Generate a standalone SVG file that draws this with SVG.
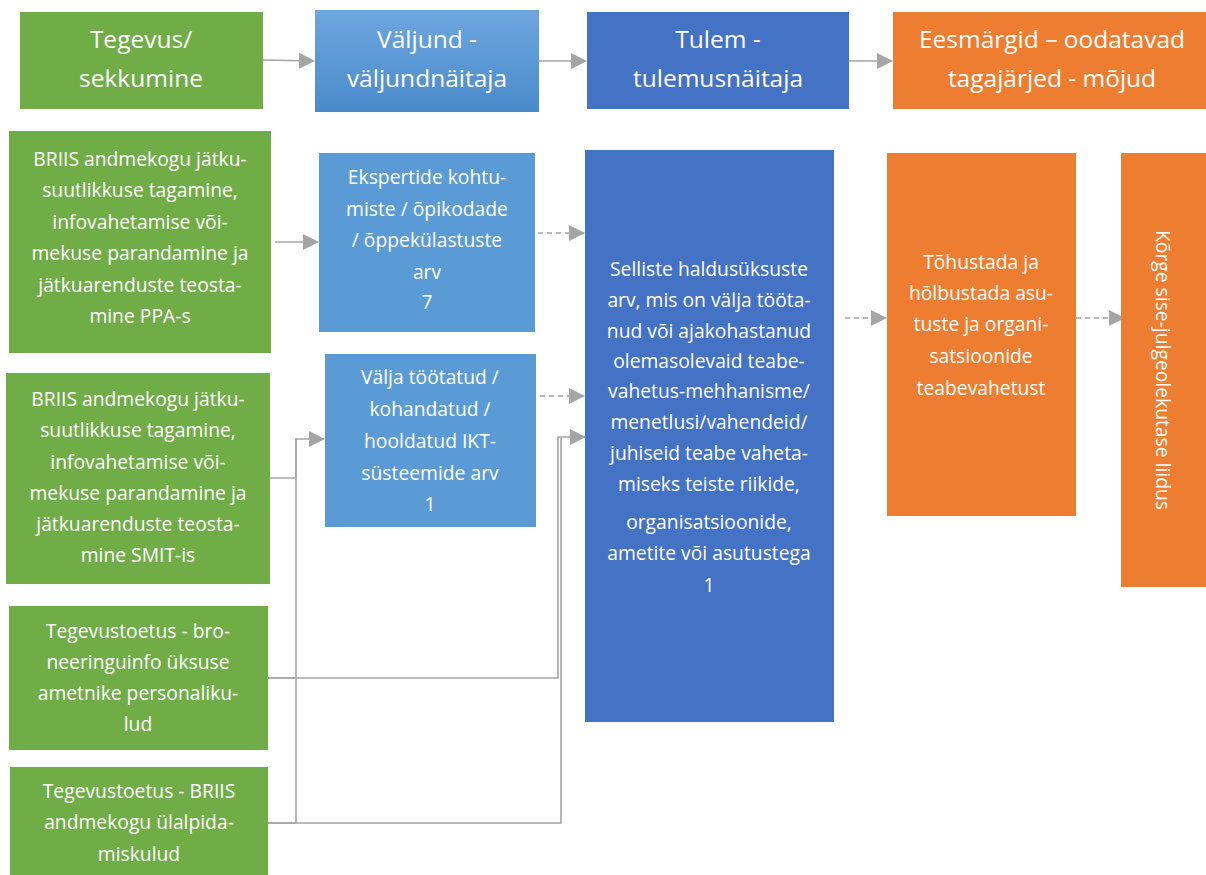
<svg xmlns="http://www.w3.org/2000/svg" width="1206" height="875" viewBox="0 0 1206 875">
<style>
.g{fill:#70AD47}
.b{fill:#5B9BD5}
.d{fill:#4472C4}
.o{fill:#ED7D31}
text{font-family:"Open Sans","Noto Sans","DejaVu Sans",sans-serif;fill:#fff;text-anchor:middle}
.h{font-size:24.5px}
.t{font-size:19.3px}
.c{fill:none;stroke:#A5A5A5;stroke-width:1.6}
.dash{stroke-dasharray:5 4}
</style>
<defs>
<marker id="ah" markerUnits="userSpaceOnUse" markerWidth="16" markerHeight="16" refX="15" refY="8" orient="auto">
<path d="M0,0 L16,8 L0,16 Z" fill="#A5A5A5"/>
</marker>
<linearGradient id="vg" x1="0" y1="0" x2="0" y2="1">
<stop offset="0" stop-color="#6EA6DE"/>
<stop offset="1" stop-color="#4A8ACB"/>
</linearGradient>
</defs>
<g id="connectors">
<line class="c" x1="263" y1="60" x2="314" y2="61" marker-end="url(#ah)"/>
<line class="c" x1="539" y1="61" x2="586" y2="61" marker-end="url(#ah)"/>
<line class="c" x1="849" y1="61" x2="892" y2="61" marker-end="url(#ah)"/>
<line class="c" x1="275" y1="242" x2="318" y2="242" marker-end="url(#ah)"/>
<polyline class="c" points="270,478 296,478 296,439 324,439" marker-end="url(#ah)"/>
<polyline class="c" points="268,678 296,678 296,439"/>
<polyline class="c" points="268,823 296,823 296,678"/>
<polyline class="c" points="268,678 558,678 558,437 585,437" marker-end="url(#ah)"/>
<polyline class="c" points="268,823 561,823 561,437"/>
<line class="c dash" x1="538" y1="233" x2="584" y2="233" marker-end="url(#ah)"/>
<line class="c dash" x1="540" y1="396" x2="584" y2="396" marker-end="url(#ah)"/>
<line class="c dash" x1="845" y1="318" x2="886" y2="318" marker-end="url(#ah)"/>
<line class="c dash" x1="1076" y1="318" x2="1124" y2="318" marker-end="url(#ah)"/>
</g>
<g id="h1"><rect class="g" x="20" y="12" width="243" height="97"/>
<text class="h" x="141" y="48">Tegevus/</text><text class="h" x="141" y="87">sekkumine</text></g>
<g id="h2"><rect fill="url(#vg)" x="315" y="10" width="224" height="102"/>
<text class="h" x="427" y="48">Väljund -</text><text class="h" x="427" y="87">väljundnäitaja</text></g>
<g id="h3"><rect class="d" x="587" y="12" width="262" height="97"/>
<text class="h" x="718" y="48">Tulem -</text><text class="h" x="718" y="87">tulemusnäitaja</text></g>
<g id="h4"><rect class="o" x="893" y="12" width="313" height="97"/>
<text class="h" x="1052" y="48">Eesmärgid – oodatavad</text><text class="h" x="1052" y="87">tagajärjed - mõjud</text></g>
<g id="a1"><rect class="g" x="9" y="131" width="262" height="222"/>
<text class="t"><tspan x="140" y="166">BRIIS andmekogu jätku-</tspan><tspan x="140" y="197">suutlikkuse tagamine,</tspan><tspan x="140" y="229">infovahetamise või-</tspan><tspan x="140" y="260">mekuse parandamine ja</tspan><tspan x="140" y="292">jätkuarenduste teosta-</tspan><tspan x="140" y="323">mine PPA-s</tspan></text></g>
<g id="a2"><rect class="g" x="6" y="373" width="264" height="211"/>
<text class="t"><tspan x="138" y="406">BRIIS andmekogu jätku-</tspan><tspan x="138" y="437">suutlikkuse tagamine,</tspan><tspan x="138" y="469">infovahetamise või-</tspan><tspan x="138" y="500">mekuse parandamine ja</tspan><tspan x="138" y="531">jätkuarenduste teosta-</tspan><tspan x="138" y="562">mine SMIT-is</tspan></text></g>
<g id="a3"><rect class="g" x="9" y="606" width="259" height="144"/>
<text class="t"><tspan x="138" y="638">Tegevustoetus - bro-</tspan><tspan x="138" y="669">neeringuinfo üksuse</tspan><tspan x="138" y="700">ametnike personaliku-</tspan><tspan x="138" y="731">lud</tspan></text></g>
<g id="a4"><rect class="g" x="10" y="767" width="258" height="108"/>
<text class="t"><tspan x="139" y="798">Tegevustoetus - BRIIS</tspan><tspan x="139" y="829">andmekogu ülalpida-</tspan><tspan x="139" y="861">miskulud</tspan></text></g>
<g id="v1"><rect class="b" x="319" y="153" width="216" height="179"/>
<text class="t"><tspan x="427" y="184">Ekspertide kohtu-</tspan><tspan x="427" y="216">miste / õpikodade</tspan><tspan x="427" y="247">/ õppekülastuste</tspan><tspan x="427" y="279">arv</tspan><tspan x="427" y="309">7</tspan></text></g>
<g id="v2"><rect class="b" x="325" y="354" width="211" height="173"/>
<text class="t"><tspan x="430" y="384">Välja töötatud /</tspan><tspan x="430" y="416">kohandatud /</tspan><tspan x="430" y="448">hooldatud IKT-</tspan><tspan x="430" y="480">süsteemide arv</tspan><tspan x="430" y="511">1</tspan></text></g>
<g id="r1"><rect class="d" x="585" y="150" width="249" height="572"/>
<text class="t"><tspan x="709" y="276">Selliste haldusüksuste</tspan><tspan x="709" y="307">arv, mis on välja tööta-</tspan><tspan x="709" y="338">nud või ajakohastanud</tspan><tspan x="709" y="368">olemasolevaid teabe-</tspan><tspan x="709" y="398">vahetus-mehhanisme/</tspan><tspan x="709" y="429">menetlusi/vahendeid/</tspan><tspan x="709" y="460">juhiseid teabe vaheta-</tspan><tspan x="709" y="491">miseks teiste riikide,</tspan><tspan x="709" y="529">organisatsioonide,</tspan><tspan x="709" y="560">ametite või asutustega</tspan><tspan x="709" y="592">1</tspan></text></g>
<g id="o1"><rect class="o" x="887" y="153" width="189" height="363"/>
<text class="t"><tspan x="981" y="269">Tõhustada ja</tspan><tspan x="981" y="300">hõlbustada asu-</tspan><tspan x="981" y="331">tuste ja organi-</tspan><tspan x="981" y="363">satsioonide</tspan><tspan x="981" y="395">teabevahetust</tspan></text></g>
<g id="o2"><rect class="o" x="1121" y="153" width="85" height="434"/>
<text class="t" transform="translate(1156,370) rotate(90)" x="0" y="0">Kõrge sise-julgeolekutase liidus</text></g>
</svg>
